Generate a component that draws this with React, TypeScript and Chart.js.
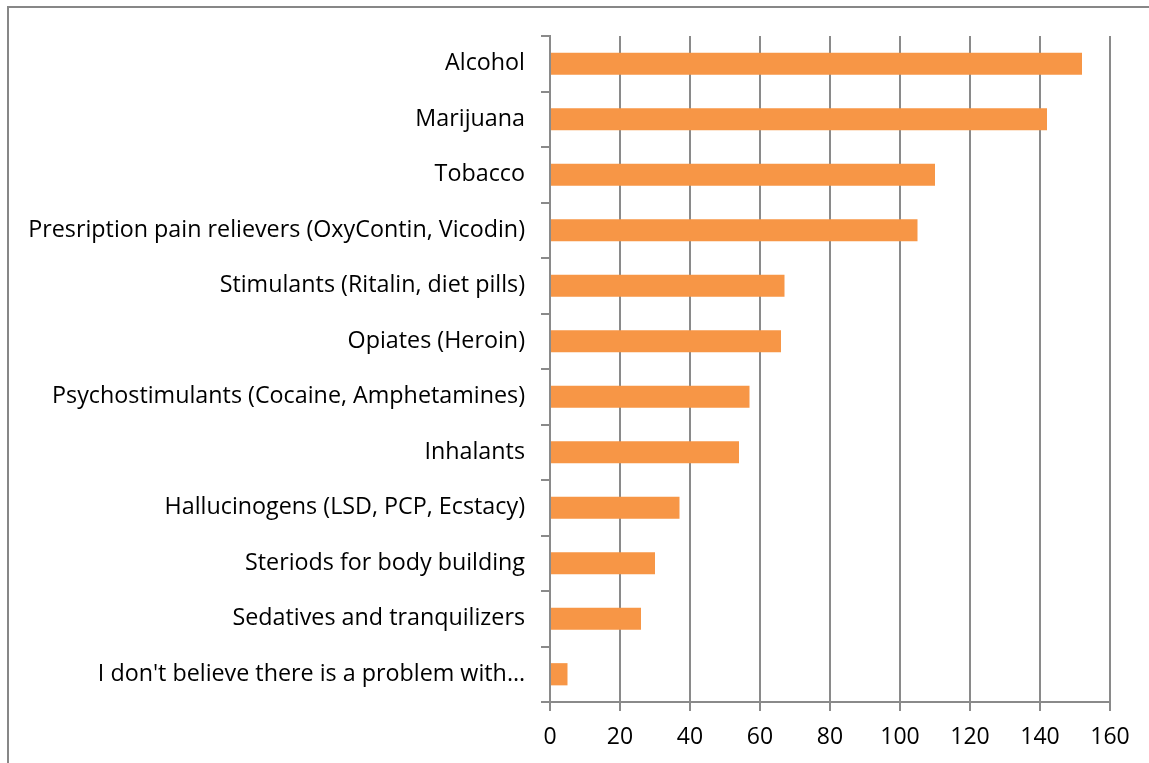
import React, { useEffect, useRef } from "react";
import { Chart, registerables } from "chart.js";

Chart.register(...registerables);

const categories: string[] = [
  "Alcohol",
  "Marijuana",
  "Tobacco",
  "Presription pain relievers (OxyContin, Vicodin)",
  "Stimulants (Ritalin, diet pills)",
  "Opiates (Heroin)",
  "Psychostimulants (Cocaine, Amphetamines)",
  "Inhalants",
  "Hallucinogens (LSD, PCP, Ecstacy)",
  "Steriods for body building",
  "Sedatives and tranquilizers",
  "I don't believe there is a problem with\u2026",
];

const values: number[] = [152, 142, 110, 105, 67, 66, 57, 54, 37, 30, 26, 5];

const xTicks: number[] = [0, 20, 40, 60, 80, 100, 120, 140, 160];

const FONT = "'Open Sans'";
const GRID = "#8a8a8a";

export default function App() {
  const ref = useRef<HTMLCanvasElement | null>(null);
  useEffect(() => {
    if (!ref.current) return;
    const chart = new Chart(ref.current, {
      type: "bar",
      data: {
        labels: categories,
        datasets: [
          {
            data: values,
            backgroundColor: "#F79646",
            borderWidth: 0,
            barPercentage: 0.4,
            categoryPercentage: 1,
          },
        ],
      },
      options: {
        indexAxis: "y",
        animation: false,
        responsive: false,
        maintainAspectRatio: false,
        layout: { padding: { top: 36, right: 39, left: 0, bottom: 0 } },
        plugins: { legend: { display: false }, tooltip: { enabled: false } },
        scales: {
          x: {
            min: 0,
            max: 160,
            afterBuildTicks: (s: any) => {
              s.ticks = xTicks.map((v) => ({ value: v }));
            },
            afterFit: (s: any) => {
              s.height = 61;
            },
            grid: { color: GRID, lineWidth: 2, tickLength: 9, drawTicks: true },
            border: { color: GRID, width: 2 },
            ticks: {
              color: "#000",
              font: { family: FONT, size: 23 },
              padding: 13,
              maxRotation: 0,
            },
          },
          y: {
            afterFit: (s: any) => {
              s.width = 550;
            },
            grid: { drawOnChartArea: false, color: GRID, lineWidth: 2, tickLength: 9, offset: true },
            border: { color: GRID, width: 2 },
            ticks: {
              color: "#000",
              font: { family: FONT, size: 23.3 },
              padding: 16,
              autoSkip: false,
            },
          },
        },
      },
    });
    return () => chart.destroy();
  }, []);
  return (
    <div style={{ position: "fixed", left: 0, top: 0, width: 1149, height: 763, overflow: "hidden", background: "#fff" }}>
      <div
        style={{
          position: "absolute",
          left: 7,
          top: 6,
          width: 1300,
          height: 900,
          borderLeft: "2px solid #878787",
          borderTop: "2px solid #878787",
        }}
      />
      <canvas ref={ref} width={1149} height={763} style={{ position: "absolute", left: 0, top: 0 }} />
    </div>
  );
}
